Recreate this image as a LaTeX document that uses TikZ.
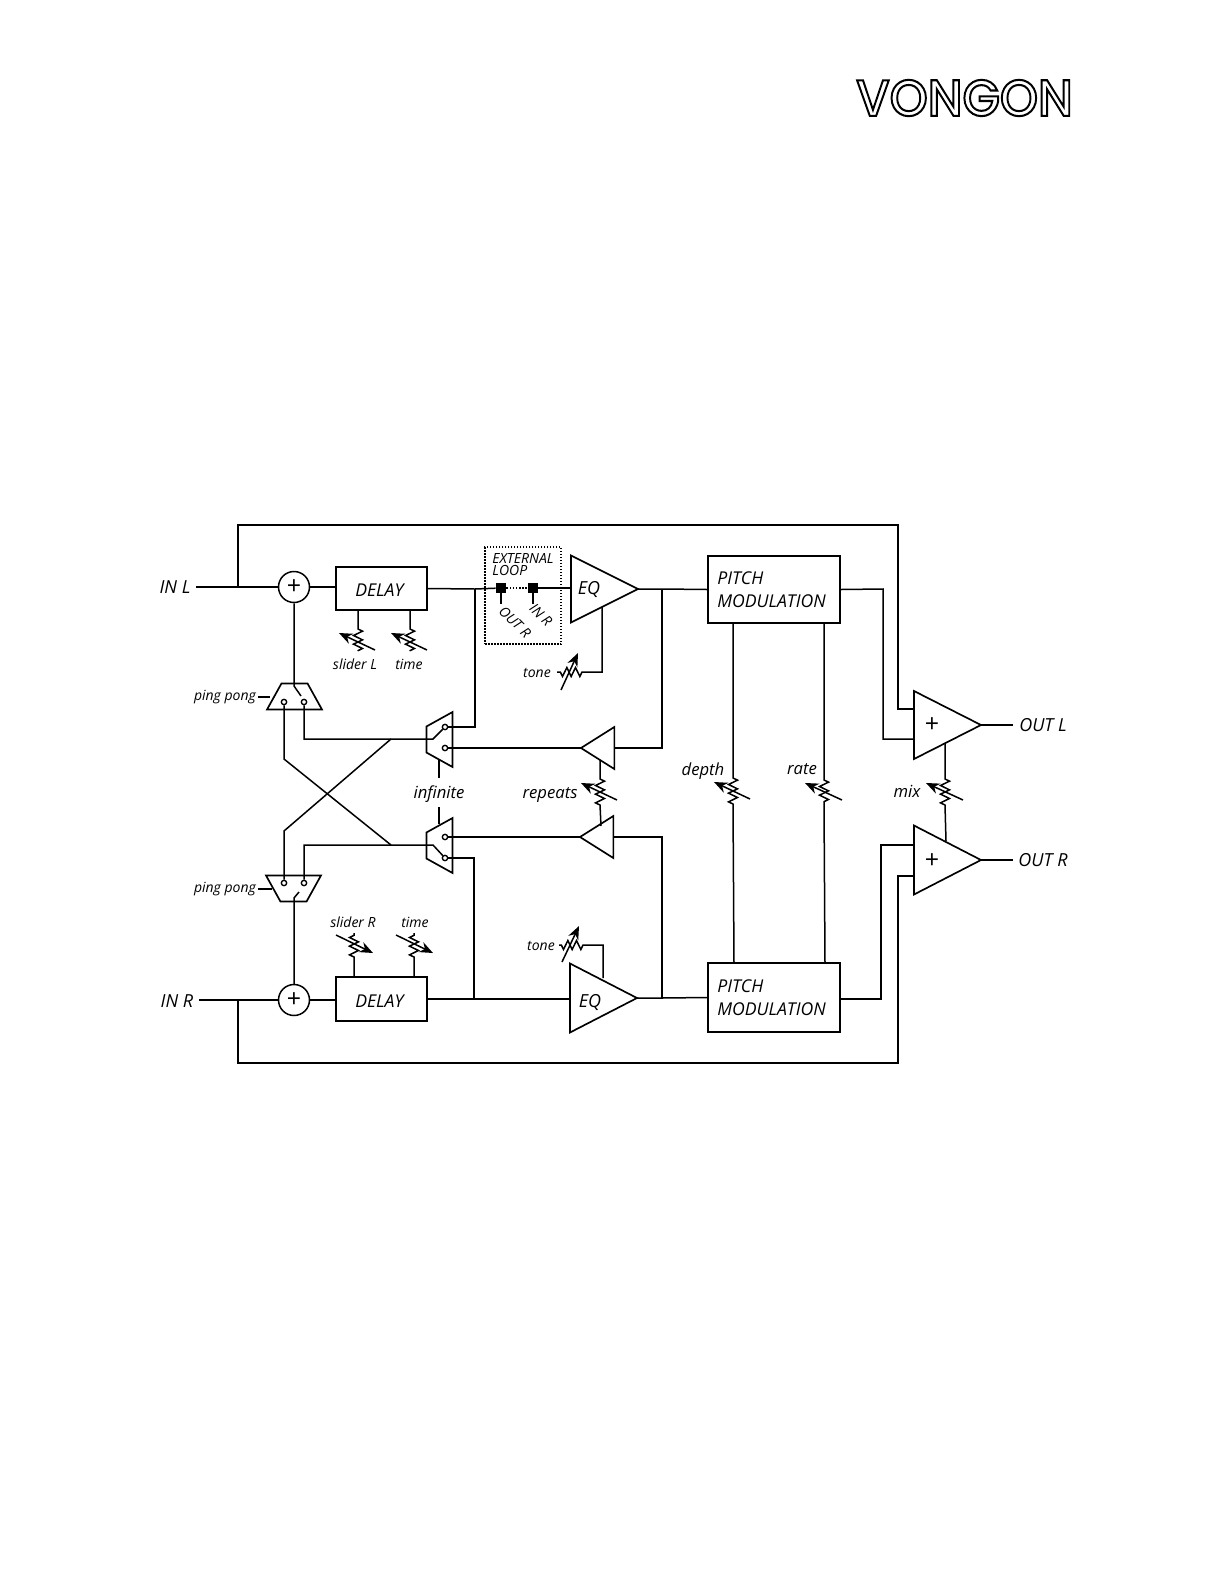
\documentclass[tikz,border=0pt]{standalone}
\usepackage{fontspec}
\setmainfont{Open Sans}
\newfontfamily\logofont{Poppins}[UprightFont=* Medium]
\usepackage{tikz}
\usetikzlibrary{positioning,arrows.meta,shapes.geometric,decorations.pathmorphing}

\begin{document}
\begin{tikzpicture}[
  x=0.6pt, y=-0.6pt,
  wire/.style={line width=0.9pt},
  zig/.style={decoration={zigzag, segment length=5.2pt, amplitude=2.7pt}},
  potarrow/.style={line width=0.9pt, -{Stealth[length=8pt,width=6.5pt]}},
  box/.style={draw, line width=1pt, align=left, inner sep=0pt,
              font=\itshape\fontsize{10.6}{13.8}\selectfont},
  sumnode/.style={draw, circle, line width=0.9pt, minimum size=18.6pt, inner sep=0pt,
              font=\fontsize{15}{15}\selectfont},
  tri/.style={draw, isosceles triangle, isosceles triangle stretches, line width=1pt,
              inner sep=0pt, outer sep=0pt},
  eqtri/.style={tri, minimum width=40.2pt, minimum height=40.2pt},
  reptri/.style={tri, shape border rotate=180, minimum width=25.2pt, minimum height=20pt},
  swbox/.style={draw, trapezium, trapezium left angle=61, trapezium right angle=61,
              line width=1pt, inner sep=1pt, outer sep=0pt,
              minimum width=33pt, minimum height=15pt},
  contact/.style={draw, circle, fill=white, line width=0.8pt, minimum size=3.2pt, inner sep=0pt},
  term/.style={fill=black, minimum size=6pt, inner sep=0pt},
  big/.style={font=\itshape\fontsize{10.8}{12}\selectfont},
  mid/.style={font=\itshape\fontsize{10}{12}\selectfont},
  small/.style={font=\itshape\fontsize{8.4}{7.2}\selectfont, inner sep=1pt}
]
\useasboundingbox (0,0) rectangle (1224,1584);
% logo
\node (brand) at (964.5,98) {\resizebox{130pt}{21.6pt}{\logofont\special{pdf:code 1 Tr 0.4 w}VONGON\special{pdf:code 0 Tr}}};
% inputs and outputs
\node[big] (inL) at (175,587) {IN L};
\node[big] (inR) at (177,1001) {IN R};
\node[big] (outL) at (1043,725) {OUT L};
\node[big] (outR) at (1043,860) {OUT R};
% left path
\node[sumnode] (sumL) at (294,587) {+};
\node[box, minimum width=54.6pt, minimum height=25.8pt, text height=9pt] (delayL) at (381.5,588.5) {DELAY\hspace*{2.5pt}};
\node[eqtri, anchor=apex] (eqL) at (638,589) {};
\node[big] (eqLtxt) at (589,589) {EQ};
\node[box, minimum width=79.2pt, minimum height=40.2pt] (pitchL) at (774,589.5) {PITCH\\MODULATION\hspace*{3pt}};
% right path
\node[sumnode] (sumR) at (294,1000) {+};
\node[box, minimum width=54.6pt, minimum height=26.4pt, text height=10.2pt] (delayR) at (381.5,999) {DELAY\hspace*{2.5pt}};
\node[eqtri, anchor=apex, minimum width=41.4pt] (eqR) at (637,998) {};
\node[big] (eqRtxt) at (590,1002) {EQ};
\node[box, minimum width=79.2pt, minimum height=41.4pt] (pitchR) at (774,997.5) {PITCH\\MODULATION\hspace*{3pt}};
% output mixers
\node[tri, anchor=apex, minimum width=40.8pt, minimum height=40.2pt] (mixL) at (981,725) {};
\node[tri, anchor=apex, minimum width=41.4pt, minimum height=40.2pt] (mixR) at (981,860) {};
\node[font=\fontsize{15}{15}\selectfont] (mixLtxt) at (932,725) {+};
\node[font=\fontsize{15}{15}\selectfont] (mixRtxt) at (932,861) {+};
% feedback amps
\node[reptri, anchor=apex] (repL) at (581,748) {};
\node[reptri, anchor=apex] (repR) at (580,837) {};
% switches
\node[swbox] (pingL) at (294.5,696.5) {};
\node[swbox, rotate=180] (pingR) at (293.5,888.5) {};
\node[swbox, rotate=90] (infL) at (439.5,739.5) {};
\node[swbox, rotate=90] (infR) at (439.5,845.5) {};
\node[contact] (pingLa) at (284,702) {};
\node[contact] (pingLb) at (304,702) {};
\node[contact] (pingRa) at (284,883) {};
\node[contact] (pingRb) at (304,883) {};
\node[contact] (infLa) at (445,727) {};
\node[contact] (infLb) at (445,748) {};
\node[contact] (infRa) at (445,837) {};
\node[contact] (infRb) at (445,858) {};
% external loop
\node[draw, dash pattern=on 0.9pt off 0.9pt, line width=0.8pt, minimum width=45.6pt, minimum height=58.2pt, inner sep=0pt] (extBox) at (523,595.5) {};
\node[small, align=left] (extTxt) at (523,564.5) {EXTERNAL\\LOOP};
\node[term] (extSend) at (501,588) {};
\node[term] (extRet) at (533,588) {};
\node[small, rotate=-45] (extSendTxt) at (515,622) {OUT R};
\node[small, rotate=-45] (extRetTxt) at (541,615) {IN R};
% labels
\node[small] (pingLtxt) at (225,697) {ping pong};
\node[small] (pingRtxt) at (225,889) {ping pong};
\node[small] (sliderLtxt) at (355,664) {slider L};
\node[small] (timeLtxt) at (409,664) {time};
\node[small] (sliderRtxt) at (353,922) {slider R};
\node[small] (timeRtxt) at (415,922) {time};
\node[small] (toneLtxt) at (537,673) {tone};
\node[small] (toneRtxt) at (541,946) {tone};
\node[mid] (infTxt) at (439,794) {infinite};
\node[mid] (repeatsTxt) at (550,795) {repeats};
\node[mid] (depthTxt) at (703,771) {depth};
\node[mid] (rateTxt) at (802,769) {rate};
\node[mid] (mixTxt) at (907,791) {mix};
% junction points
\coordinate (loopLa) at (238,587);
\coordinate (loopLb) at (238,1000);
\coordinate (railTop) at (898,525);
\coordinate (railBot) at (898,1063);
\coordinate (loopRa) at (898,709);
\coordinate (loopRb) at (898,876);
\coordinate (tapL) at (475,589);
\coordinate (tapR) at (474,999);
\coordinate (fbL) at (662,589);
\coordinate (fbR) at (662,998);
\coordinate (busL) at (391,739);
\coordinate (busR) at (391,845);
\coordinate (armL) at (433,739);
\coordinate (armR) at (433,845);
\coordinate (infStem) at (439,778);
% top and bottom loops
\draw[wire] (inL.east) -- (sumL.west);
\draw[wire] (inR.east |- sumR.west) -- (sumR.west);
\draw[wire] (loopLa) |- (railTop) -- (loopRa) -- (loopRa -| mixL.lower side);
\draw[wire] (loopLb) |- (railBot) -- (loopRb) -- (loopRb -| mixR.lower side);
% left signal path
\draw[wire] (sumL.east) -- (sumL.east -| delayL.west);
\draw[wire] (delayL.east) -- (tapL) -- (extSend);
\draw[wire, densely dotted] (extSend) -- (extRet);
\draw[wire] (extRet) -- (extRet -| eqL.lower side);
\draw[wire] (eqL.apex) -- (fbL) -- (pitchL.west);
\draw[wire] (extSend.south) -- (501,604);
\draw[wire] (extRet.south) -- (533,604);
% right signal path
\draw[wire] (sumR.east) -- (sumR.east -| delayR.west);
\draw[wire] (delayR.east) -- (tapR) -- (tapR -| eqR.lower side);
\draw[wire] (eqR.apex) -- (fbR) -- (pitchR.west);
% to the mixers
\draw[wire] (pitchL.east) -- (883,589) -- (883,739) -- (913,739);
\draw[wire] (pitchR.east |- 0,999) -- (881,999) -- (881,845) -- (913,845);
\draw[wire] (mixL.apex) -- (outL.west);
\draw[wire] (mixR.apex) -- (outR.west);
% ping pong
\draw[wire] (sumL.south) -- (294,686) -- (301,696);
\draw[wire] (sumR.north) -- (294,898) -- (299,892);
\draw[wire] (pingLtxt.east) -- (270,697);
\draw[wire] (pingRtxt.east) -- (272,889);
\draw[wire] (pingLb) -- (304,739) -- (busL) -- (armL) -- (infLa);
\draw[wire] (pingRb) -- (304,845) -- (busR) -- (armR) -- (infRb);
\draw[wire] (pingLa) -- (284,759) -- (busR);
\draw[wire] (pingRa) -- (284,831) -- (busL);
% infinite and repeats
\draw[wire] (infLa) -- (475,727) -- (tapL);
\draw[wire] (infRb) -- (474,858) -- (tapR);
\draw[wire] (infLb) -- (repL.apex);
\draw[wire] (infRa) -- (repR.apex);
\draw[wire] (repL.lower side) -- (662,748) -- (fbL);
\draw[wire] (repR.lower side) -- (662,837) -- (fbR);
\draw[wire] (439,760) -- (infStem);
\draw[wire] (439,824) -- (439,807);
% pots
\draw[wire] (358,610) -- (358,629) decorate[zig]{-- (358,651)};
\draw[potarrow] (358,640) ++(17,10) -- ++(-36,-17);
\draw[wire] (410,610) -- (410,629) decorate[zig]{-- (410,651)};
\draw[potarrow] (410,640) ++(17,10) -- ++(-36,-17);
\draw[wire] (354,977) -- (354,957) decorate[zig]{-- (354,933)};
\draw[potarrow] (354,945) ++(-18,-10) -- ++(37,18);
\draw[wire] (414,977) -- (414,957) decorate[zig]{-- (414,933)};
\draw[potarrow] (414,945) ++(-18,-10) -- ++(37,18);
\draw[wire] (602,607) -- (602,672) -- (582,672) decorate[zig]{-- (557,672)};
\draw[potarrow] (570,672) ++(-9,18) -- ++(17,-37);
\draw[wire] (603,978) -- (603,945) -- (583,945) decorate[zig]{-- (559,945)};
\draw[potarrow] (571,945) ++(-9,17) -- ++(17,-36);
\draw[wire] (600,760) -- (600,779) decorate[zig]{-- (600,805)} -- (601,826);
\draw[potarrow] (600,792) ++(17,8) -- ++(-36,-17);
\draw[wire] (733,623) -- (733,778) decorate[zig]{-- (733,804)} -- (734,963);
\draw[potarrow] (733,791) ++(17,8) -- ++(-36,-17);
\draw[wire] (824,623) -- (824,780) decorate[zig]{-- (824,805)} -- (825,963);
\draw[potarrow] (824,792) ++(18,8) -- ++(-37,-17);
\draw[wire] (945,743) -- (945,779) decorate[zig]{-- (945,805)} -- (946,841);
\draw[potarrow] (945,792) ++(18,8) -- ++(-37,-17);
\end{tikzpicture}
\end{document}
